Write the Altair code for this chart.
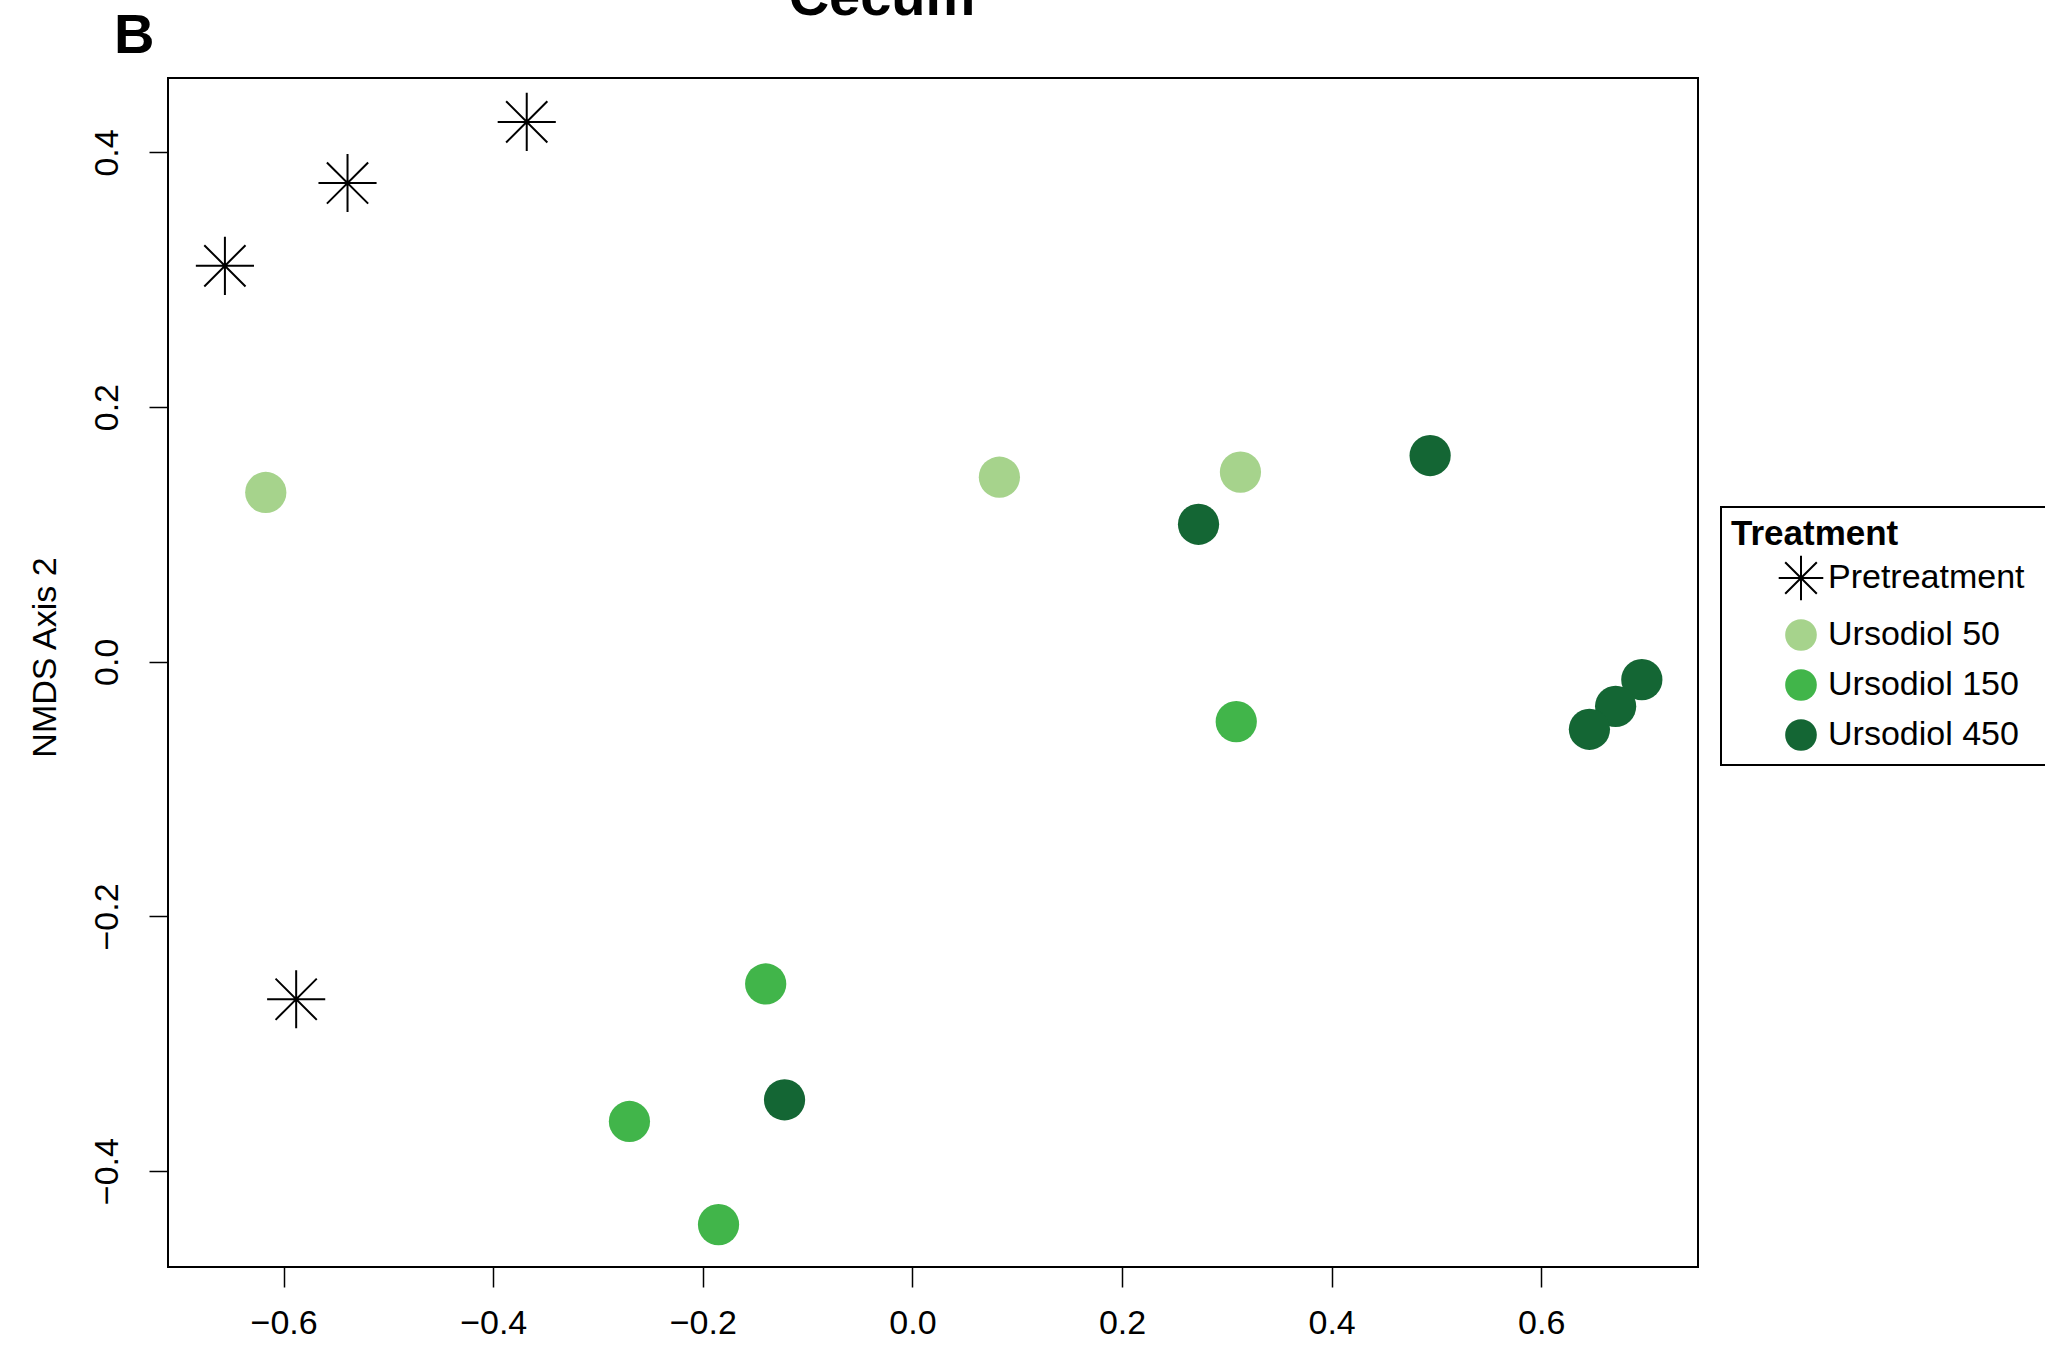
import altair as alt
import pandas as pd

FONT = "Liberation Sans"

treatments = ["Pretreatment", "Ursodiol 50", "Ursodiol 150", "Ursodiol 450"]
fill_colors = ["transparent", "#a6d38c", "#41b54a", "#146634"]
stroke_colors = ["black", "transparent", "transparent", "transparent"]
# asterisk drawn as a plus over a cross, all arms the same length
asterisk = "M-1.41,0L1.41,0M0,-1.41L0,1.41M-1,-1L1,1M-1,1L1,-1"
shapes = [asterisk, "circle", "circle", "circle"]

# NMDS ordination scores (axis 1, axis 2) per sample
pre_x = [-0.656, -0.539, -0.368, -0.588]
pre_y = [0.311, 0.376, 0.424, -0.265]
u50_x = [-0.617, 0.083, 0.313]
u50_y = [0.133, 0.145, 0.149]
u150_x = [0.309, -0.140, -0.270, -0.185]
u150_y = [-0.047, -0.253, -0.361, -0.442]
u450_x = [0.494, 0.273, 0.696, 0.671, 0.646, -0.122]
u450_y = [0.162, 0.108, -0.014, -0.035, -0.053, -0.344]

x_ticks = [-0.6, -0.4, -0.2, 0.0, 0.2, 0.4, 0.6]
y_ticks = [-0.4, -0.2, 0.0, 0.2, 0.4]

groups = [
    ("Pretreatment", pre_x, pre_y),
    ("Ursodiol 50", u50_x, u50_y),
    ("Ursodiol 150", u150_x, u150_y),
    ("Ursodiol 450", u450_x, u450_y),
]
rows = []
for name, xs, ys in groups:
    for a, b in zip(xs, ys):
        rows.append({"Treatment": name, "NMDS1": a, "NMDS2": b})
df = pd.DataFrame(rows)

# legend frame runs on past the right edge of the figure (a blank trailing glyph widens it)
legend = alt.Legend(
    title="Treatment",
    orient="none",
    legendX=1553,
    legendY=429,
    padding=10,
    strokeColor="black",
    titleFont=FONT,
    titleFontSize=35,
    titleFontWeight="bold",
    titleColor="black",
    titlePadding=9,
    labelFont=FONT,
    labelFontSize=34,
    labelColor="black",
    labelOffset=10,
    labelLimit=600,
    labelExpr="datum.label + '\u2800'",
    symbolSize=1000,
    symbolStrokeWidth=2,
    symbolOffset=53,
    rowPadding=10,
)

x_axis = alt.Axis(
    values=x_ticks, format=".1f", title=None, grid=False, domain=False,
    tickSize=20, tickWidth=1.5, tickColor="black",
    labelFont=FONT, labelFontSize=34, labelColor="black",
    labelBaseline="alphabetic", labelPadding=46,
)
y_axis = alt.Axis(
    values=y_ticks, format=".1f", title="NMDS Axis 2", grid=False, domain=False,
    tickSize=19, tickWidth=1.5, tickColor="black",
    labelFont=FONT, labelFontSize=34, labelColor="black",
    labelAngle=270, labelAlign="center", labelBaseline="alphabetic",
    labelPadding=32,
    titleFont=FONT, titleFontSize=34, titleFontWeight="normal", titleColor="black",
    titleAngle=270, titleAlign="center", titleBaseline="alphabetic",
    titleX=-113, titleY=579,
)

points = alt.Chart(df).mark_point(filled=True, opacity=1, size=1700, strokeWidth=2).encode(
    x=alt.X("NMDS1:Q", scale=alt.Scale(domain=[-0.7103, 0.7496], nice=False, zero=False), axis=x_axis),
    y=alt.Y("NMDS2:Q", scale=alt.Scale(domain=[-0.4753, 0.4585], nice=False, zero=False), axis=y_axis),
    fill=alt.Fill("Treatment:N", scale=alt.Scale(domain=treatments, range=fill_colors), legend=legend),
    stroke=alt.Stroke("Treatment:N", scale=alt.Scale(domain=treatments, range=stroke_colors), legend=legend),
    shape=alt.Shape("Treatment:N", scale=alt.Scale(domain=treatments, range=shapes), legend=legend),
)

panel = alt.Chart(pd.DataFrame({"t": ["B"]})).mark_text(
    font=FONT, fontSize=56, fontWeight="bold", align="left", baseline="alphabetic", color="black"
).encode(text="t:N", x=alt.value(-54), y=alt.value(-25))

heading = alt.Chart(pd.DataFrame({"t": ["Cecum"]})).mark_text(
    font=FONT, fontSize=56, fontWeight="bold", align="center", baseline="alphabetic", color="black"
).encode(text="t:N", x=alt.value(714), y=alt.value(-63))

chart = (
    alt.layer(points, panel, heading)
    .properties(
        width=1530,
        height=1189,
        autosize=alt.AutoSizeParams(type="none"),
        padding={"left": 168, "top": 78, "right": 347, "bottom": 82},
        background="white",
    )
    .configure_view(stroke="black", strokeWidth=2)
    .configure_legend(strokeWidth=2)
)

chart.save("out.html", embed_options={"renderer": "svg", "actions": False})
